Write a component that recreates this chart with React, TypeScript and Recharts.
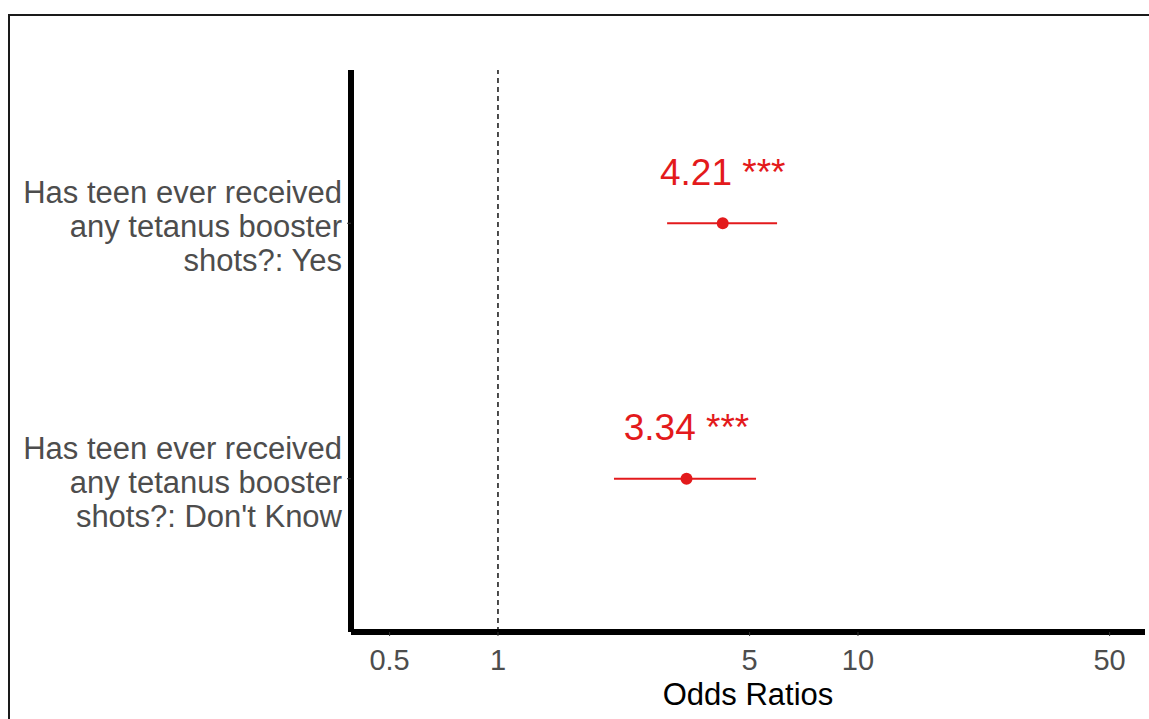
import {
  ErrorBar,
  LabelList,
  ReferenceLine,
  Scatter,
  ScatterChart,
  XAxis,
  YAxis,
} from 'recharts'

const termLines = [
  ['Has teen ever received', 'any tetanus booster', 'shots?: Yes'],
  ['Has teen ever received', 'any tetanus booster', "shots?: Don't Know"],
]
const termPositions = [2, 1]
const estimates = [4.21, 3.34]
const ciLower = [2.95, 2.1]
const ciUpper = [5.96, 5.21]
const stars = ['***', '***']
const xTicks = [0.5, 1, 5, 10, 50]

const RED = '#e31a1c'
const FONT = '"Liberation Sans", Arial, sans-serif'

const chartData = estimates.map((est, i) => ({
  est,
  pos: termPositions[i],
  err: [est - ciLower[i], ciUpper[i] - est],
  label: `${est.toFixed(2)} ${stars[i]}`,
}))

function YTick(props: any) {
  const { x, y, payload } = props
  const idx = termPositions.indexOf(payload.value)
  const lines = idx >= 0 ? termLines[idx] : []
  return (
    <g>
      {lines.map((line, i) => (
        <text
          key={i}
          x={x}
          y={y - 20 + i * 34}
          textAnchor="end"
          fill="#4d4d4d"
          fontSize={31}
          fontFamily={FONT}
        >
          {line}
        </text>
      ))}
    </g>
  )
}

function PointLabel(props: any) {
  const { x, y, width, value } = props
  const cx = x + (width ?? 0) / 2
  return (
    <text x={cx} y={y - 34} textAnchor="middle" fill={RED} fontSize={37} fontFamily={FONT}>
      {value}
    </text>
  )
}

export default function App() {
  return (
    <div style={{ position: 'fixed', inset: 0, background: '#fff', overflow: 'hidden' }}>
      <div
        style={{
          position: 'absolute',
          left: 8,
          top: 14,
          width: 1200,
          height: 800,
          border: '2px solid #1a1a1a',
        }}
      />
      <div style={{ position: 'absolute', left: 0, top: 0 }}>
        <ScatterChart
          width={1149}
          height={719}
          margin={{ top: 70, right: 4, bottom: 0, left: 0 }}
          style={{ fontFamily: FONT }}
        >
          <XAxis
            type="number"
            dataKey="est"
            scale="log"
            domain={[0.3906, 62.7]}
            allowDataOverflow
            ticks={xTicks}
            tickFormatter={(v: number) => String(v)}
            height={87}
            tickSize={4}
            tickMargin={13}
            axisLine={{ stroke: '#000', strokeWidth: 6 }}
            tickLine={{ stroke: '#333' }}
            tick={{ fill: '#4d4d4d', fontSize: 29, fontFamily: FONT }}
            label={{
              value: 'Odds Ratios',
              position: 'insideBottom',
              offset: 14,
              fill: '#000',
              fontSize: 31,
              fontFamily: FONT,
            }}
          />
          <YAxis
            type="number"
            dataKey="pos"
            domain={[0.4, 2.6]}
            ticks={termPositions}
            width={351}
            tickSize={4}
            tickMargin={5}
            axisLine={{ stroke: '#000', strokeWidth: 6 }}
            tickLine={{ stroke: '#333' }}
            tick={<YTick />}
          />
          <ReferenceLine x={1} stroke="#000" strokeWidth={1.4} strokeDasharray="5 4" />
          <Scatter
            data={chartData}
            fill={RED}
            isAnimationActive={false}
            shape={(p: any) => <circle cx={p.cx} cy={p.cy} r={6} fill={RED} />}
          >
            <ErrorBar
              dataKey="err"
              direction="x"
              stroke={RED}
              strokeWidth={2}
              width={0}
              isAnimationActive={false}
            />
            <LabelList dataKey="label" content={<PointLabel />} />
          </Scatter>
        </ScatterChart>
      </div>
    </div>
  )
}
